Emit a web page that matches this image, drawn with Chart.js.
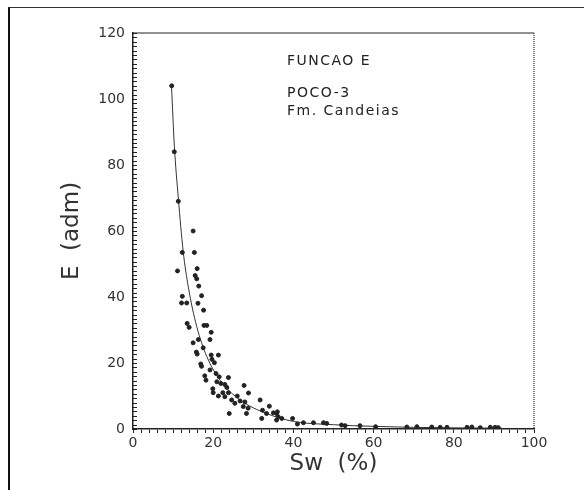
<!DOCTYPE html>
<html>
<head>
<meta charset="utf-8">
<script src="https://cdn.jsdelivr.net/npm/chart.js@4"></script>
<style>
  html, body { margin: 0; padding: 0; background: #fff; }
  #wrap { position: relative; width: 584px; height: 490px; }
  #frame { position: absolute; left: 8px; top: 7px; width: 576px; height: 490px;
           border-left: 2px solid #111; border-top: 1px solid #333; box-sizing: border-box; }
  canvas { position: absolute; left: 0; top: 0; }
</style>
</head>
<body>
<div id="wrap">
  <div id="frame"></div>
  <canvas id="chart" width="584" height="490"></canvas>
</div>
<script>
// measured points, Sw (%) and E (adm)
const swValues = [9.65, 10.3, 11.3, 12.3, 11.1, 15.0, 15.3, 16.0, 15.5, 15.9, 16.4, 12.3, 12.1, 13.4,
  17.1, 16.2, 17.6, 13.5, 14.0, 17.7, 18.4, 19.5, 19.2, 16.3, 15.0, 17.5, 15.8, 16.0, 19.5, 21.3,
  19.7, 20.3, 16.9, 17.1, 19.2, 20.7, 17.9, 18.2, 21.5, 23.8, 20.9, 21.9, 19.9, 22.9, 23.4, 20.0,
  22.4, 23.8, 21.3, 22.9, 27.7, 28.8, 26.0, 24.6, 26.7, 25.4, 27.9, 31.7, 27.5, 28.7, 24.0, 28.3,
  32.3, 34.0, 33.3, 32.1, 35.8, 36.2, 35.8, 37.1, 39.8, 41.0, 42.5, 45.0, 47.5, 48.3, 52.0, 52.9,
  35.0, 36.0, 56.6, 60.5, 68.3, 70.8, 74.5, 76.6, 78.3, 83.3, 84.5, 86.6, 89.1, 90.3, 91.1];
const eValues = [104, 84, 69, 53.5, 47.9, 60.0, 53.5, 48.6, 46.5, 45.5, 43.3, 40.2, 38.2, 38.2,
  40.4, 38.1, 36.0, 32.0, 30.8, 31.4, 31.4, 29.3, 27.1, 27.1, 26.1, 24.6, 23.3, 22.7, 22.4, 22.4,
  21.1, 20.1, 19.7, 19.0, 17.9, 16.8, 16.1, 14.8, 15.8, 15.6, 14.3, 13.8, 12.2, 13.5, 12.6, 11.0,
  11.0, 11.0, 10.0, 9.8, 13.2, 10.9, 10.0, 8.8, 8.5, 7.8, 8.2, 8.8, 6.8, 6.3, 4.7, 4.7,
  5.7, 6.9, 4.7, 3.2, 4.7, 3.7, 2.7, 3.2, 3.2, 1.5, 1.9, 1.9, 1.9, 1.7, 1.2, 1.0,
  4.9, 5.2, 1.0, 0.7, 0.6, 0.7, 0.6, 0.5, 0.5, 0.5, 0.6, 0.4, 0.5, 0.5, 0.4];

// fitted curve
const curveSw = [9.6, 10.3, 11.3, 12.5, 13.8, 15.9, 18.4, 21.7, 26.7, 33.3, 40, 50, 60, 70, 80, 92];
const curveE = [104, 86, 70, 54, 43, 31, 22, 14.8, 8.8, 4.7, 2.3, 1.3, 0.8, 0.5, 0.35, 0.25];

const noteLines = ['FUNCAO E', '', 'POCO-3', 'Fm. Candeias'];
const noteY = [111.3, 0, 101.7, 96.2];

const ink = '#222';

const notes = {
  id: 'notes',
  afterDraw(chart) {
    const { ctx, chartArea: a, scales } = chart;
    ctx.save();
    // plot box top and right edge
    ctx.strokeStyle = ink;
    ctx.lineWidth = 1.2;
    ctx.beginPath();
    ctx.moveTo(a.left, a.top); ctx.lineTo(a.right, a.top);
    ctx.stroke();
    ctx.setLineDash([1, 1]);
    ctx.beginPath();
    ctx.moveTo(a.right, a.top); ctx.lineTo(a.right, a.bottom);
    ctx.stroke();
    ctx.setLineDash([]);
    // y ticks point inward
    ctx.lineWidth = 1;
    ctx.beginPath();
    scales.y.ticks.forEach(t => {
      const py = Math.round(scales.y.getPixelForValue(t.value)) + 0.5;
      ctx.moveTo(a.left, py); ctx.lineTo(a.left + 4, py);
    });
    ctx.stroke();
    ctx.fillStyle = ink;
    ctx.font = '14px "DejaVu Sans"';
    ctx.letterSpacing = '1.5px';
    ctx.textBaseline = 'middle';
    const x = scales.x.getPixelForValue(38.4);
    noteLines.forEach((t, i) => {
      if (t) ctx.fillText(t, x, scales.y.getPixelForValue(noteY[i]));
    });
    ctx.restore();
  }
};

new Chart(document.getElementById('chart'), {
  type: 'scatter',
  data: {
    datasets: [{
      data: swValues.map((v, i) => ({ x: v, y: eValues[i] })),
      backgroundColor: ink,
      borderColor: ink,
      pointRadius: 2,
      pointStyle: 'circle'
    }, {
      type: 'line',
      data: curveSw.map((v, i) => ({ x: v, y: curveE[i] })),
      borderColor: '#333',
      borderWidth: 1,
      pointRadius: 0,
      cubicInterpolationMode: 'monotone',
      fill: false
    }]
  },
  options: {
    responsive: false,
    animation: false,
    events: [],
    layout: { padding: { left: 58, right: 50, top: 33, bottom: 0 } },
    plugins: { legend: { display: false }, tooltip: { enabled: false } },
    scales: {
      x: {
        type: 'linear', min: 0, max: 100,
        afterBuildTicks: s => { s.ticks = []; for (let v = 0; v <= 100; v += 2) s.ticks.push({ value: v }); },
        afterFit: s => { s.height = 61; },
        grid: { drawOnChartArea: false, tickLength: 4, color: ink },
        border: { color: ink, width: 1.5 },
        ticks: {
          autoSkip: false, maxRotation: 0, padding: 2, color: '#333',
          font: { family: 'DejaVu Sans', size: 14 },
          callback: v => (v % 20 === 0 ? v : '')
        },
        title: { display: true, text: 'Sw  (%)', color: '#333',
          font: { family: 'DejaVu Sans', size: 23 }, padding: { top: 0, bottom: 12 } }
      },
      y: {
        min: 0, max: 120,
        afterBuildTicks: s => { s.ticks = []; for (let i = 0; i <= 90; i++) s.ticks.push({ value: i * 120 / 90 }); },
        afterFit: s => { s.width = 75; },
        grid: { drawOnChartArea: false, drawTicks: false, color: ink },
        border: { color: ink, width: 1.5 },
        ticks: {
          autoSkip: false, padding: 8, color: '#333',
          font: { family: 'DejaVu Sans', size: 14 },
          callback: v => { const r = Math.round(v); return (Math.abs(v - r) < 1e-6 && r % 20 === 0) ? r : ''; }
        },
        title: { display: true, text: 'E  (adm)', color: '#333',
          font: { family: 'DejaVu Sans', size: 23 }, padding: 0 }
      }
    }
  },
  plugins: [notes]
});
</script>
</body>
</html>
